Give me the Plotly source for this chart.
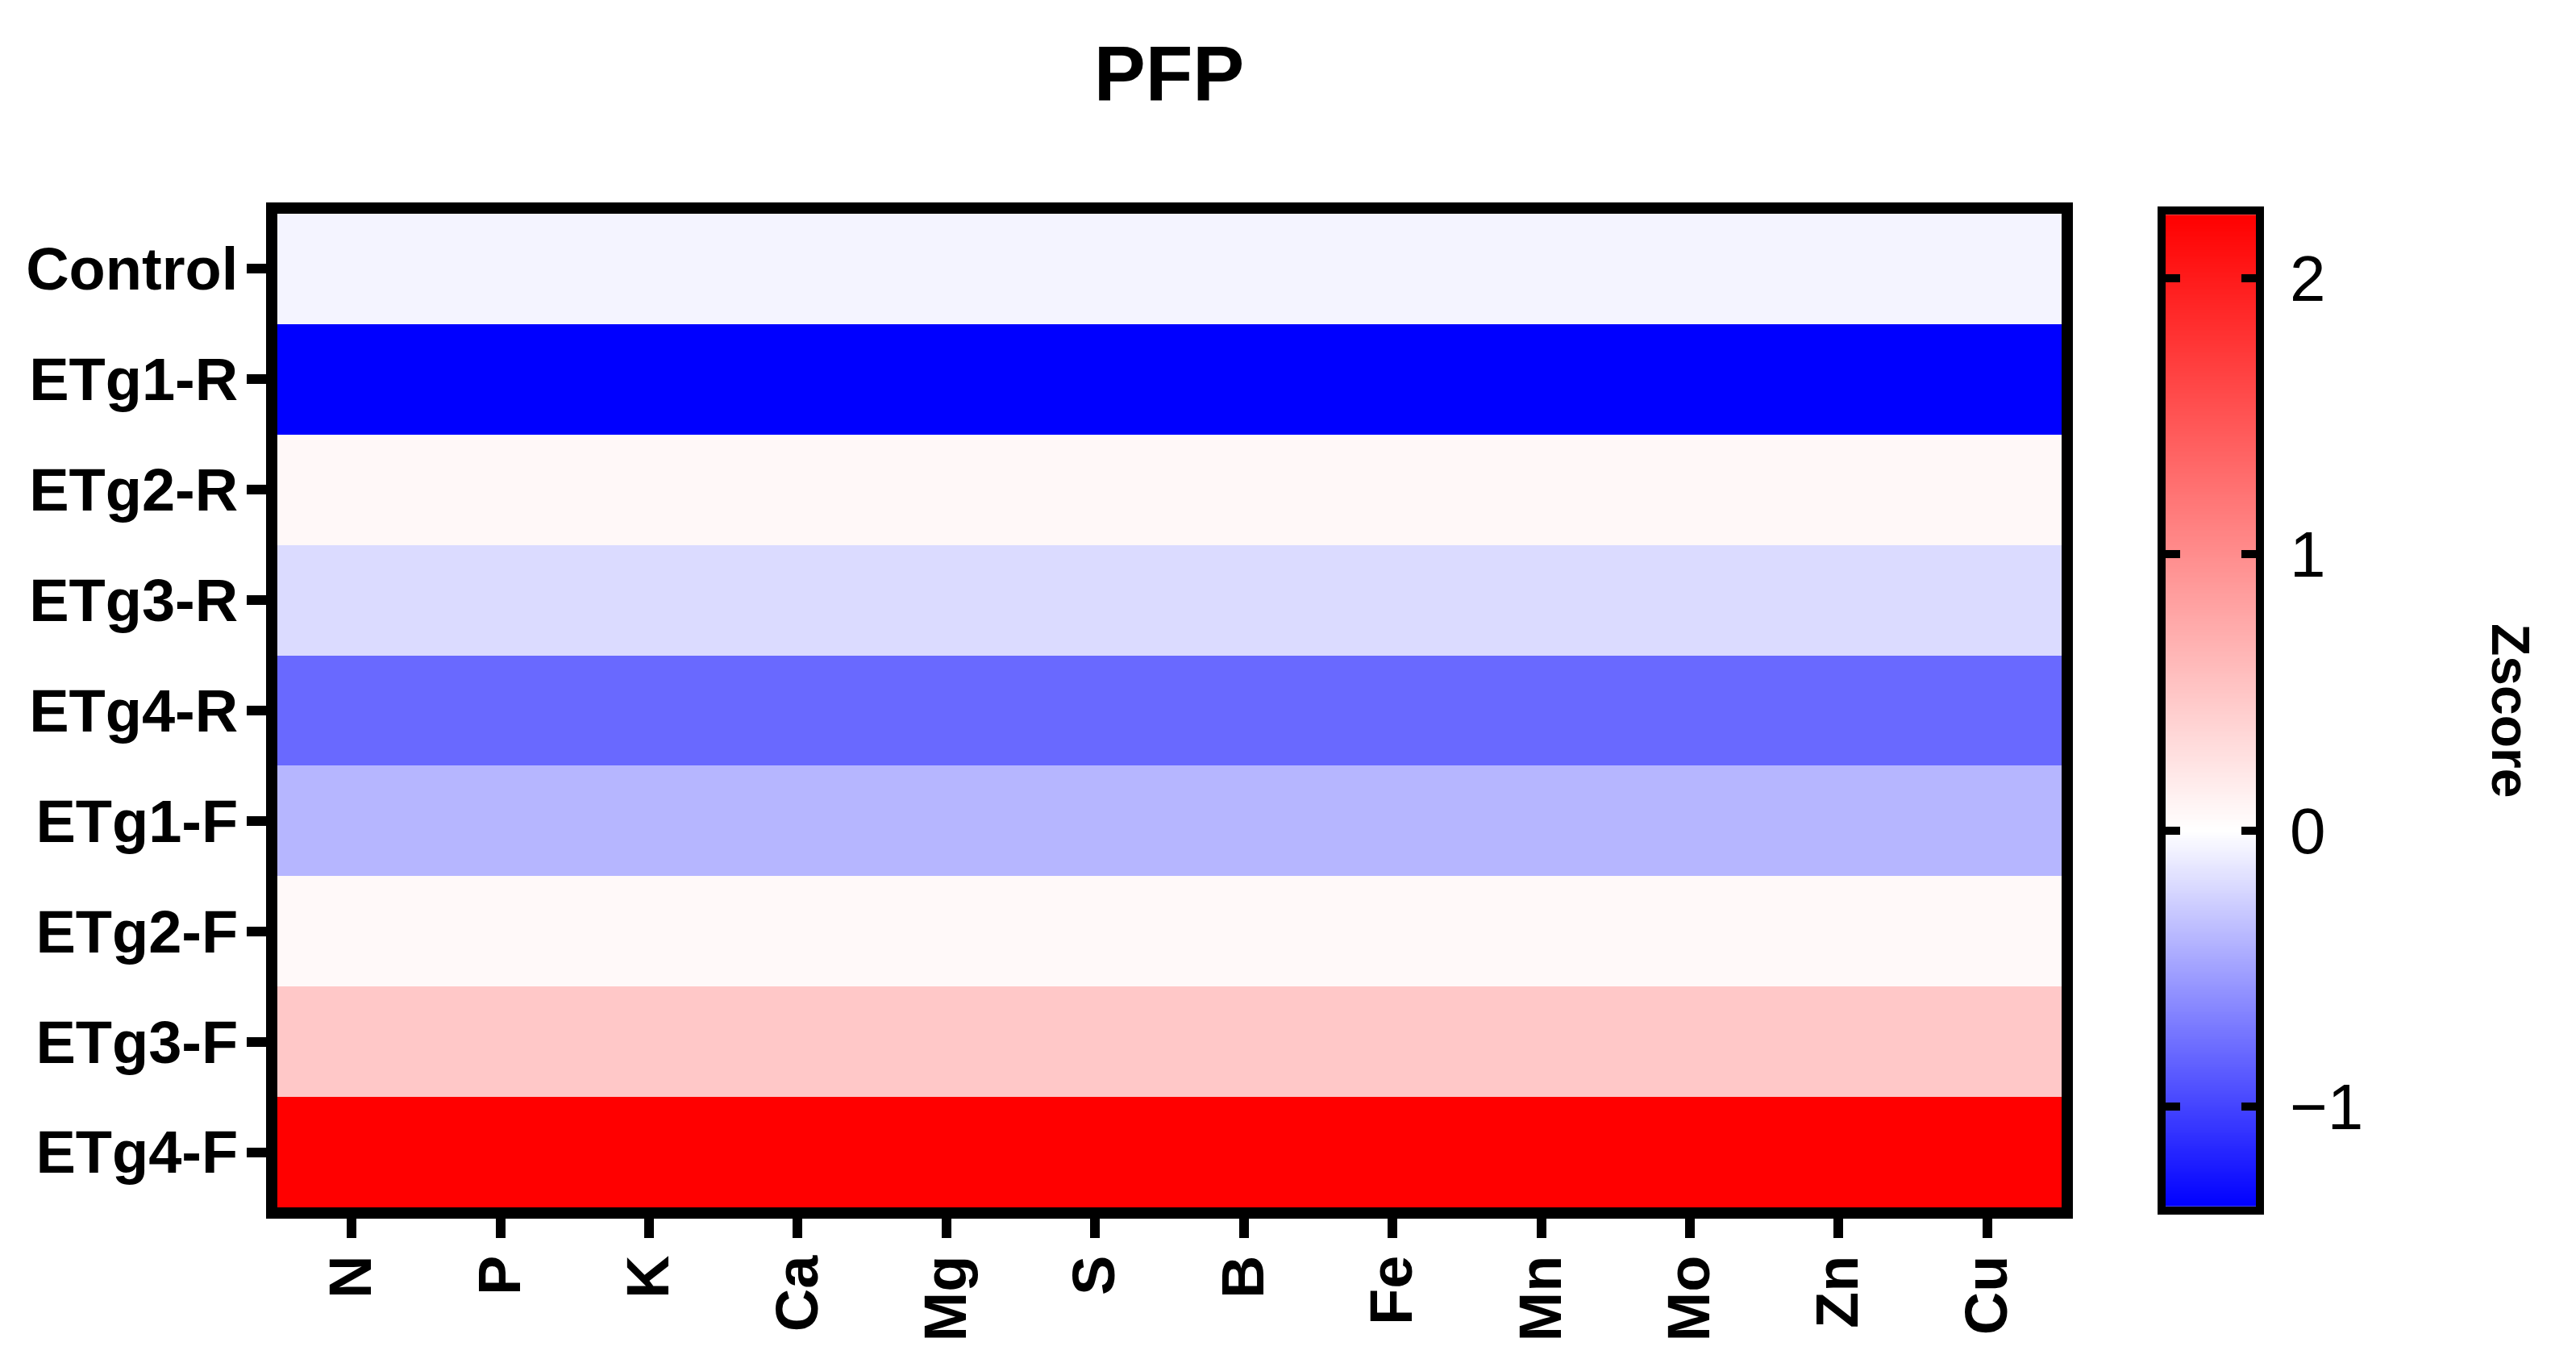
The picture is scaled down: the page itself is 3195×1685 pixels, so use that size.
import numpy as np
import plotly.graph_objects as go

# ---- data ----
title_text = "PFP"
nutrients = ["N", "P", "K", "Ca", "Mg", "S", "B", "Fe", "Mn", "Mo", "Zn", "Cu"]
treatments = ["Control", "ETg1-R", "ETg2-R", "ETg3-R", "ETg4-R",
              "ETg1-F", "ETg2-F", "ETg3-F", "ETg4-F"]
# Z-score of PFP per treatment (identical across all nutrient columns)
zscore_by_treatment = [-0.06, -1.36, 0.06, -0.19, -0.80, -0.39, 0.05, 0.48, 2.23]
colorbar_ticks = [-1, 0, 1, 2]
colorbar_title = "Zscore"

zmin = min(zscore_by_treatment)
zmax = max(zscore_by_treatment)
white_pos = (0 - zmin) / (zmax - zmin)
colorscale = [[0.0, "#0000FF"], [white_pos, "#FFFFFF"], [1.0, "#FF0000"]]

z = [[v for _ in nutrients] for v in zscore_by_treatment]

FONT = "Liberation Sans, Arial, sans-serif"
OFF = 8  # default page body margin
W, H = 3195 - OFF, 1685 - OFF
L, R, T, B = 344 - OFF, 397, 265 - OFF, 188
PW = W - L - R
PH = H - T - B

main_right = (2557 - OFF - L) / PW
cb_left = (2686 - OFF - L) / PW

fig = go.Figure()
fig.add_trace(go.Heatmap(
    z=z, x=nutrients, y=treatments,
    colorscale=colorscale, zmin=zmin, zmax=zmax,
    showscale=False, xaxis="x", yaxis="y",
))

# manual colour bar drawn on its own axes
grad = np.linspace(zmin, zmax, 600)
fig.add_trace(go.Heatmap(
    z=[[g] for g in grad], x=[0], y=grad,
    colorscale=colorscale, zmin=zmin, zmax=zmax,
    showscale=False, xaxis="x2", yaxis="y2", hoverinfo="skip",
))

tick_font = dict(family=FONT, size=74, color="black", weight="bold")

fig.update_layout(
    width=W, height=H,
    margin=dict(l=L, r=R, t=T, b=B),
    paper_bgcolor="white", plot_bgcolor="white",
    title=dict(text=title_text, x=(1450 - OFF - L) / PW, xref="paper",
               y=1 - (90 - OFF) / H, yref="container", xanchor="center", yanchor="middle",
               font=dict(family=FONT, size=96, color="black", weight="bold")),
    xaxis=dict(domain=[0, main_right], type="category", tickangle=-90,
               ticks="outside", ticklen=24, tickwidth=12, tickcolor="black",
               showline=True, linewidth=14, linecolor="black", mirror=True,
               ticklabelstandoff=-8,
               tickfont=tick_font, showgrid=False, zeroline=False),
    yaxis=dict(domain=[0, 1], type="category", autorange="reversed",
               ticks="outside", ticklen=24, tickwidth=12, tickcolor="black",
               showline=True, linewidth=14, linecolor="black", mirror=True,
               ticklabelstandoff=-4,
               tickfont=tick_font, showgrid=False, zeroline=False),
    xaxis2=dict(domain=[cb_left, 1], anchor="y2", range=[-0.5, 0.5],
                showticklabels=False, ticks="", showline=True, linewidth=10,
                linecolor="black", mirror=True, showgrid=False, zeroline=False),
    yaxis2=dict(domain=[0.001, 0.999], anchor="x2", side="right",
                range=[zmin, zmax], tickvals=colorbar_ticks,
                ticks="inside", ticklen=18, tickwidth=10, tickcolor="black",
                showline=True, linewidth=10, linecolor="black", mirror="ticks",
                ticklabelstandoff=16,
                tickfont=dict(family=FONT, size=80, color="black"),
                showgrid=False, zeroline=False),
    annotations=[dict(text=colorbar_title, x=(3114 - OFF - L) / PW, y=0.5,
                      xref="paper", yref="paper", showarrow=False, textangle=90,
                      xanchor="center", yanchor="middle",
                      font=dict(family=FONT, size=66, color="black", weight="bold"))],
)

fig.write_html("out.html")
